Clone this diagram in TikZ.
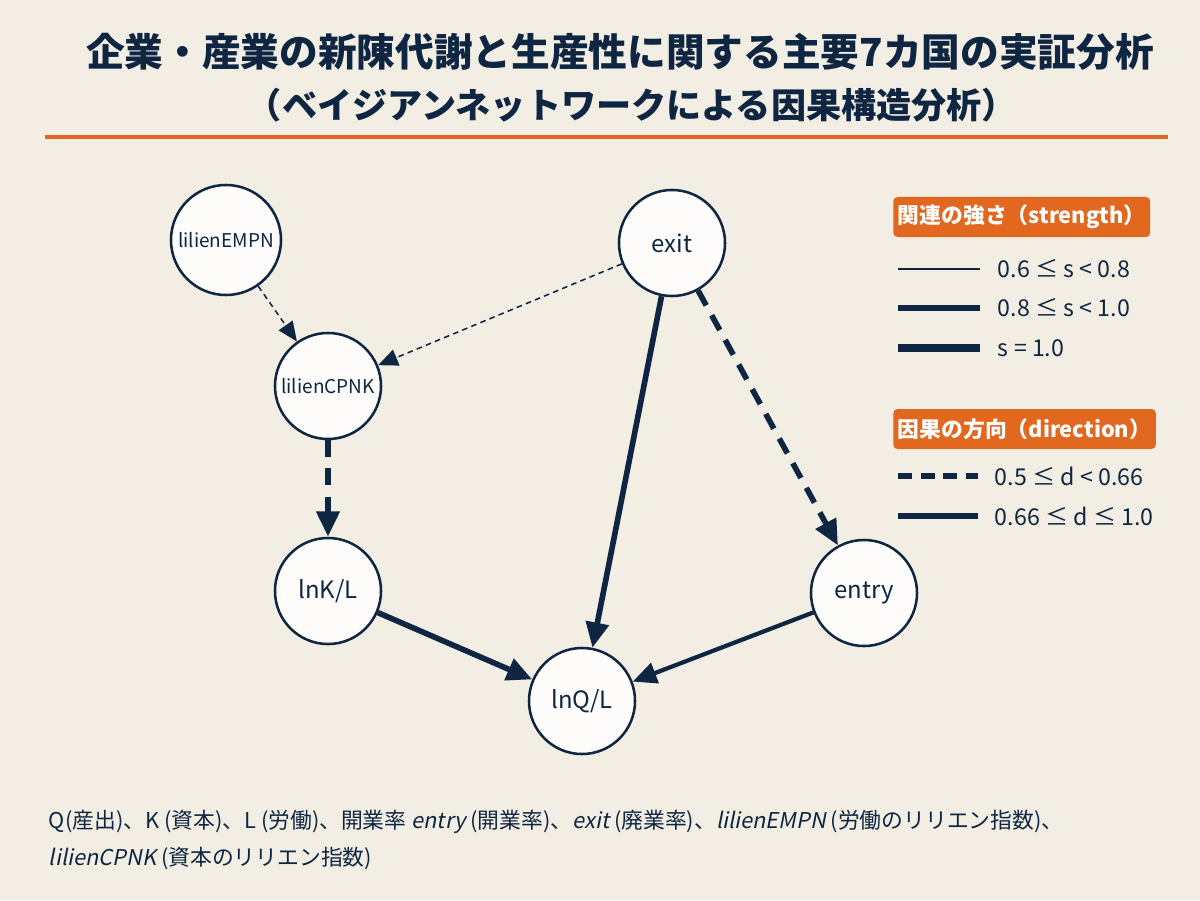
\documentclass[tikz,border=0pt]{standalone}
\usepackage{fontspec}
\setmainfont{Noto Sans CJK JP}
\newfontfamily\itfont[FakeSlant=0.2]{Noto Sans CJK JP}
\usepackage{tikz}
\usetikzlibrary{arrows.meta}
\definecolor{navy}{HTML}{0F2642}
\definecolor{bgpaper}{HTML}{F3EEE3}
\definecolor{nodefill}{HTML}{FDFCFA}
\definecolor{accent}{HTML}{E2681F}
\tikzset{
  var/.style={circle,draw=navy,fill=nodefill,line width=1.8pt,minimum size=2.65cm,inner sep=0pt,
    text=navy,font=\fontsize{17}{19}\selectfont},
  smallvar/.style={var,font=\fontsize{13.5}{16}\selectfont},
  thin/.style={line width=1.1pt,draw=navy,-{Triangle[length=14pt,width=12pt]}},
  thindash/.style={thin,dash pattern=on 4pt off 3pt},
  medium/.style={line width=3pt,draw=navy,-{Triangle[length=17pt,width=15pt]}},
  heavy/.style={line width=4pt,draw=navy,-{Triangle[length=18pt,width=16pt]}},
  heavydash/.style={heavy,dash pattern=on 12pt off 8pt},
  tagbox/.style={fill=accent,rounded corners=3pt,text=white,minimum width=6.3cm,minimum height=1cm,
    font=\bfseries\fontsize{15.5}{17}\selectfont},
  legendtext/.style={anchor=west,text=navy,font=\fontsize{16.5}{18}\selectfont},
  note/.style={anchor=west,text=navy,font=\fontsize{15.5}{17}\selectfont}
}
\begin{document}
\begin{tikzpicture}[x=0.025cm,y=-0.025cm]
\fill[bgpaper] (0,0) rectangle (1200,900);
\node[text=navy,font=\bfseries\fontsize{27.5}{33}\selectfont] (title) at (620,52) {企業・産業の新陳代謝と生産性に関する主要7カ国の実証分析};
\node[text=navy,font=\bfseries\fontsize{25}{29}\selectfont] (subtitle) at (632,105) {（ベイジアンネットワークによる因果構造分析）};
\draw[accent,line width=2.2pt] (45,137) -- (1168,137);

\node[smallvar,minimum size=2.75cm] (EMPN) at (226,240) {lilienEMPN};
\node[smallvar] (CPNK) at (328,386) {lilienCPNK};
\node[var] (exit) at (672,243) {exit};
\node[var] (lnKL) at (328,591) {lnK/L};
\node[var] (entry) at (864,593) {entry};
\node[var] (lnQL) at (582,701) {lnQ/L};

\draw[thindash] (EMPN) -- (CPNK);
\draw[thindash] (exit) -- (CPNK);
\draw[heavydash] (CPNK) -- (lnKL);
\draw[heavydash] (exit) -- (entry);
\draw[heavy] (exit) -- (lnQL);
\draw[heavy] (lnKL) -- (lnQL);
\draw[medium] (entry) -- (lnQL);

\node[tagbox,anchor=west] (strength) at (893,217) {関連の強さ（strength）};
\draw[navy,line width=1.1pt] (898,269) -- (980,269);
\draw[navy,line width=3.6pt] (898,308) -- (980,308);
\draw[navy,line width=6pt] (898,348) -- (980,348);
\node[legendtext] (s1) at (993,269) {0.6 ≤ s < 0.8};
\node[legendtext] (s2) at (993,308) {0.8 ≤ s < 1.0};
\node[legendtext] (s3) at (993,348) {s = 1.0};

\node[tagbox,anchor=west] (direction) at (893,429) {因果の方向（direction）};
\draw[navy,line width=4.2pt,dash pattern=on 10pt off 6pt] (898,476) -- (978,476);
\draw[navy,line width=4.2pt] (898,516) -- (978,516);
\node[legendtext] (d1) at (990,476) {0.5 ≤ d < 0.66};
\node[legendtext] (d2) at (990,516) {0.66 ≤ d ≤ 1.0};

\node[note] (note1) at (44,822) {Q(産出)、K (資本)、L (労働)、開業率 {\itfont entry} (開業率)、{\itfont exit} (廃業率)、{\itfont lilienEMPN} (労働のリリエン指数)、};
\node[note] (note2) at (44,858) {{\itfont lilienCPNK} (資本のリリエン指数)};
\end{tikzpicture}
\end{document}
